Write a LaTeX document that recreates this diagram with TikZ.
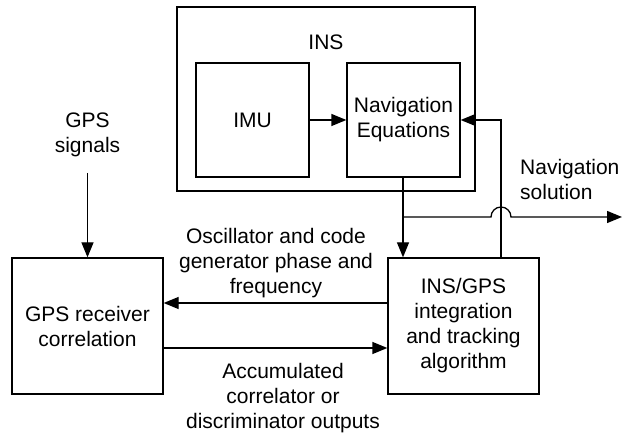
\documentclass[tikz,border=0pt]{standalone}
\usepackage{fontspec}
\setmainfont{Liberation Sans}
\usetikzlibrary{arrows.meta}
\begin{document}
\begin{tikzpicture}[x=1pt,y=1pt,
  every node/.style={font=\fontsize{21}{25}\selectfont, align=center, inner sep=0pt},
  blk/.style={draw, line width=1.3pt, minimum width=#1},
  arr/.style={line width=1.3pt, -{Triangle[length=15pt,width=12pt]}},
  ln/.style={line width=1.3pt}]
\useasboundingbox (0,0) rectangle (624,436);
\node[blk=298pt, minimum height=184pt] (ins) at (326,337) {};
\node (inslbl) at (326,394) {INS};
\node[blk=113pt, minimum height=114pt] (imu) at (252.5,316) {IMU};
\node[blk=113pt, minimum height=114pt] (nav) at (403.5,316) {Navigation\\Equations};
\node[blk=151pt, minimum height=136pt] (rx) at (87.5,110) {GPS receiver\\correlation};
\node[blk=151pt, minimum height=136pt] (ig) at (463.5,110) {INS/GPS\\integration\\and tracking\\algorithm};
\node (sig) at (87.5,301) {GPS\\signals};
\node (osc) at (276,173) {Oscillator and code\\generator phase and\\frequency};
\node (acc) at (283,38) {Accumulated\\correlator or\\discriminator outputs};
\node[anchor=west, align=left] (sol) at (520,256.5) {Navigation\\solution};
\coordinate (sigend) at (87.5,263);
\coordinate (navx) at (403,0);
\coordinate (fbx) at (501,0);
\coordinate (br) at (403,219);
\coordinate (jl) at (491,219);
\coordinate (out) at (622,219);
\draw[arr] (imu) -- (nav);
\draw[arr] (sigend) -- (rx.north);
\draw[arr] (navx |- nav.south) -- (navx |- ig.north);
\draw[arr] (br) -- (jl) arc[start angle=180, end angle=0, radius=10] -- (out);
\draw[arr] (fbx |- ig.north) -- (fbx |- nav.east) -- (nav.east);
\draw[arr] (ig.west |- 0,133) -- (rx.east |- 0,133);
\draw[arr] (rx.east |- 0,88) -- (ig.west |- 0,88);
\end{tikzpicture}
\end{document}
